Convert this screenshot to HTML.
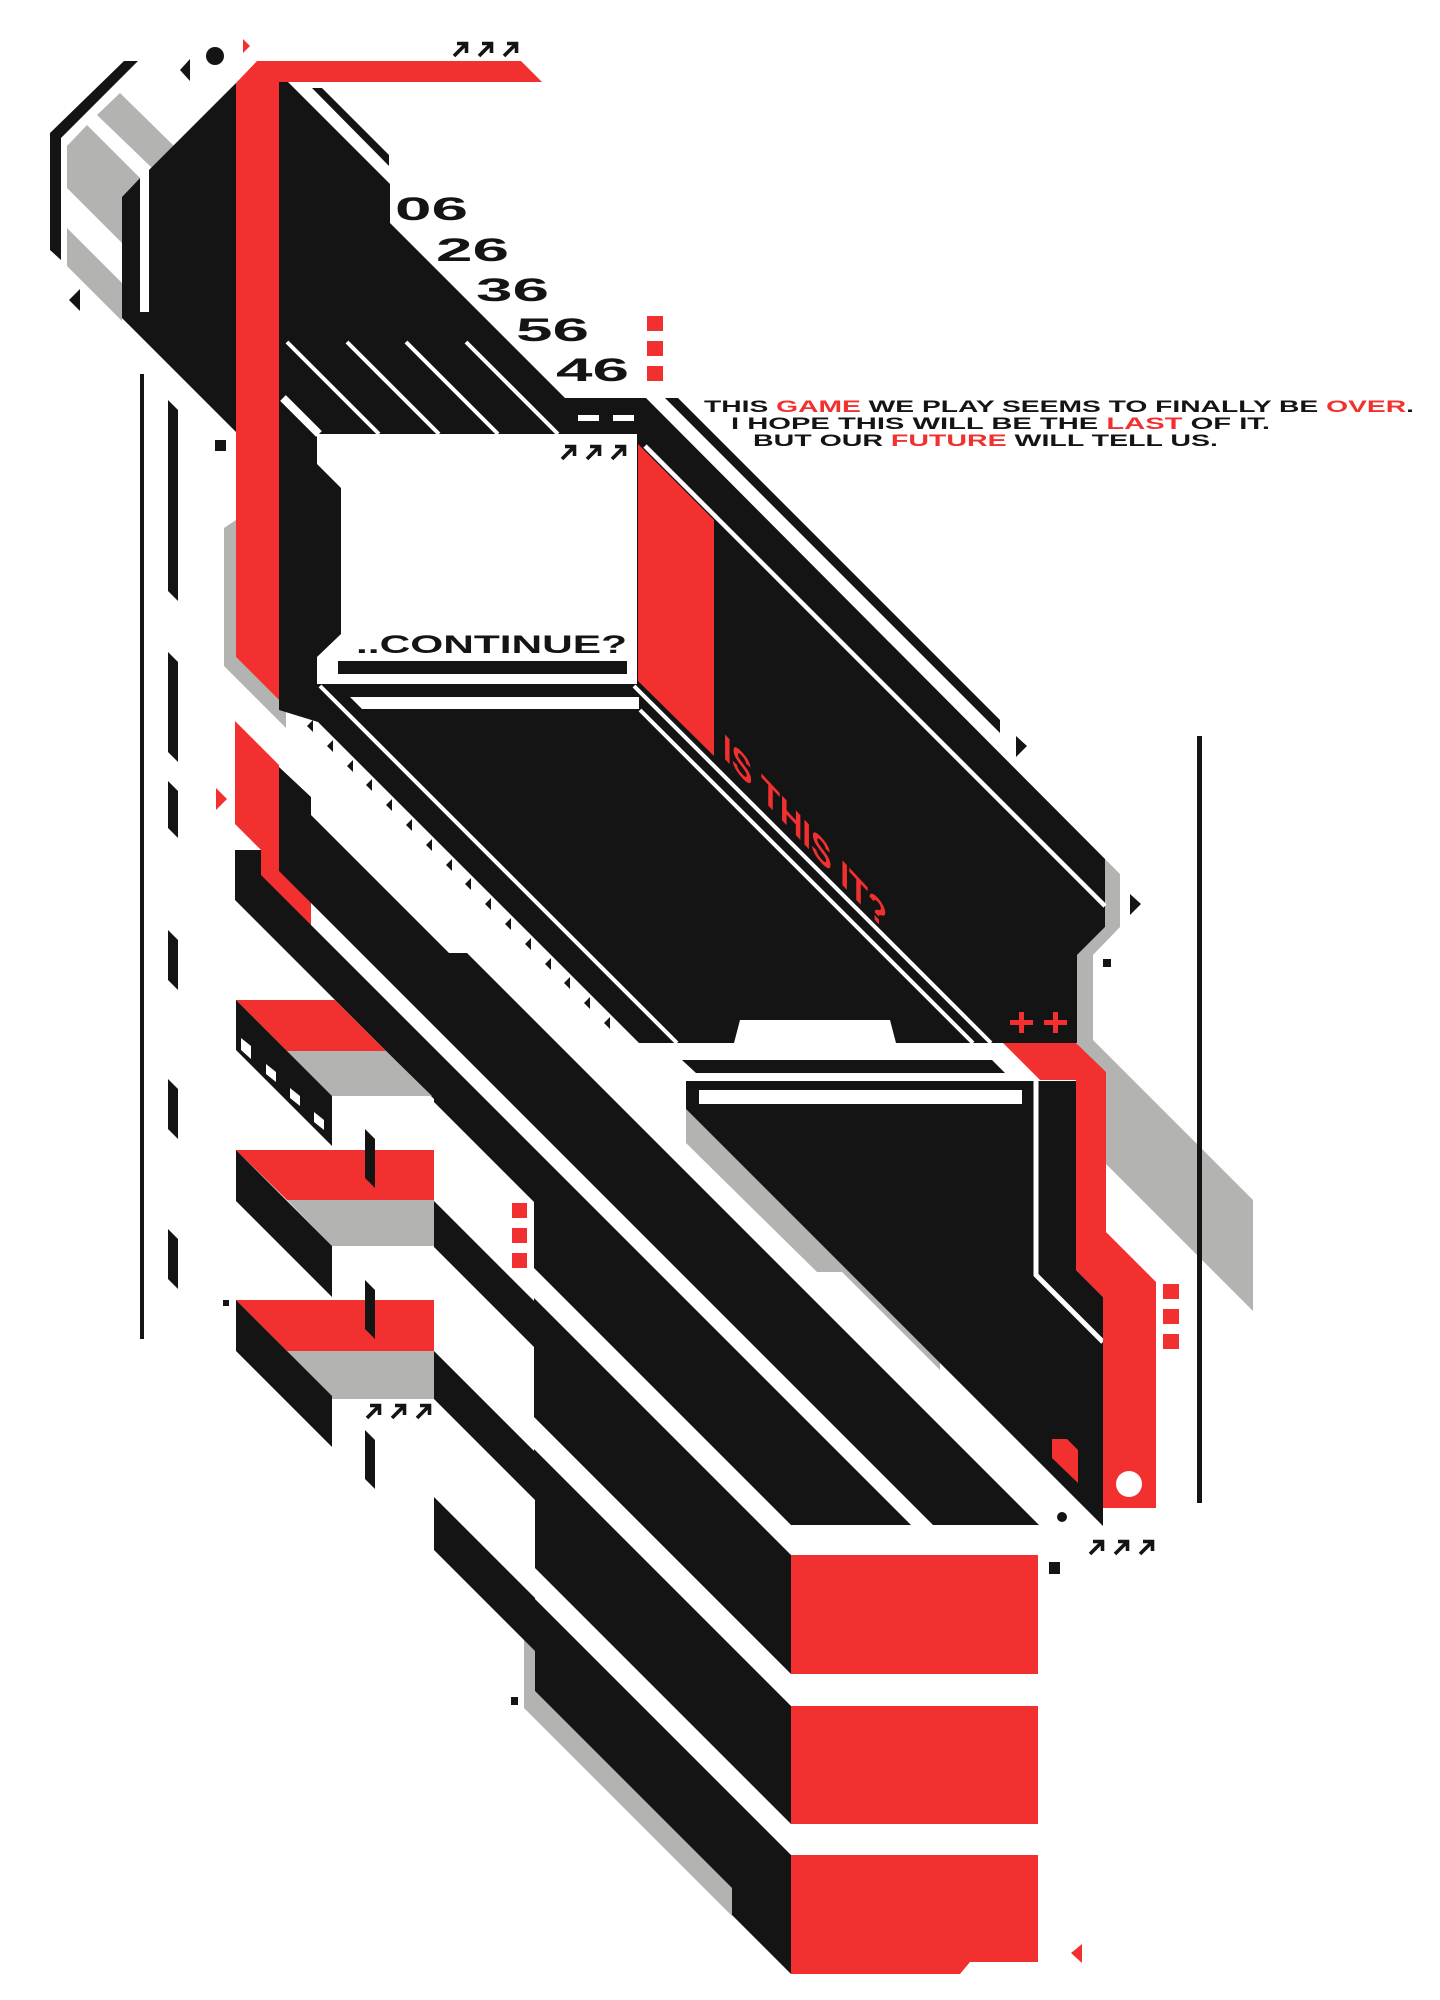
<!DOCTYPE html>
<html><head><meta charset="utf-8"><style>
html,body{margin:0;padding:0;background:#fff;}
svg{display:block;}
text{font-family:"Liberation Sans","DejaVu Sans",sans-serif;font-weight:bold;}
</style></head><body>
<svg width="1440" height="2000" viewBox="0 0 1440 2000" xmlns="http://www.w3.org/2000/svg">
<defs>
<g id="arr"><path d="M2 16 L13 5 M5 3.5 H14.5 V13" stroke="#141414" stroke-width="3.6" fill="none"/></g>
<g id="arr3"><use href="#arr"/><use href="#arr" x="25"/><use href="#arr" x="50"/></g>
</defs>
<rect width="1440" height="2000" fill="#fff"/>

<!-- gray shadows -->
<g fill="#b3b3b1">
<polygon points="97,115 120,93 174,146 152,168"/>
<polygon points="67,146 87,125 140,178 122,197 122,243 67,188"/>
<polygon points="67,228 122,283 122,321 67,266"/>
<polygon points="224,528 236,520 236,657 286,707 286,728 224,666"/>
<polygon points="1105,859 1120,874 1120,927 1093,955 1093,1040 1253,1200 1253,1311 1100,1158 1077,1043 1077,955 1105,927"/>
<polygon points="686,1109 940,1363 940,1370 842,1272 817,1272 686,1143"/>
<polygon points="524,1638 535,1650 535,1691 732,1888 732,1916 524,1708"/>
</g>

<!-- left frame -->
<g fill="#141414">
<polygon points="50,133 124,61 138,61 61,138 61,260 50,250"/>
<polygon points="149,170 236,83 236,432 122,318 122,197 140,178"/>
<polygon points="69,300 80,289 80,311"/>
<polygon points="180,70 190,59 190,81"/>
<circle cx="215" cy="56" r="9"/>
<rect x="140" y="374" width="4" height="965"/>
<rect x="215" y="440" width="11" height="11"/>
<rect x="223" y="1300" width="6" height="6"/>
<rect x="511" y="1697" width="7" height="8"/>
</g>
<rect x="140" y="170" width="9" height="142" fill="#fff"/>
<g fill="#141414">
<polygon points="168,400 178,410 178,601 168,591"/>
<polygon points="168,652 178,662 178,762 168,752"/>
<polygon points="168,781 178,791 178,838 168,828"/>
<polygon points="168,930 178,940 178,990 168,980"/>
<polygon points="168,1079 178,1089 178,1139 168,1129"/>
<polygon points="168,1229 178,1239 178,1289 168,1279"/>
</g>
<polygon points="243,39 250,46 243,53" fill="#f2302f"/>
<polygon points="216,788 227,799 216,810" fill="#f2302f"/>

<!-- main upper body + region under box -->
<polygon fill="#141414" points="279,82 288,82 390,184 390,223 565,398 646,398 1105,859 1105,927 1077,955 1077,1043 639,1043 318,722 279,710"/>
<polygon fill="#141414" points="312,88 322,88 389,155 389,166"/>
<polygon fill="#141414" points="665,398 678,398 1000,720 1000,733"/>

<!-- lower mass -->
<polygon fill="#141414" points="279,767 311,797 311,815 449,953 467,953 1039,1525 791,1525 791,1974 732,1915 732,1888 535,1691 535,1651 434,1550 434,1099 235,900 235,850 279,850"/>
<!-- box2 -->
<polygon fill="#141414" points="686,1081 1076,1081 1076,1270 1103,1297 1103,1526 686,1109"/>
<polygon fill="#141414" points="682,1060 992,1060 1005,1073 696,1073"/>

<!-- white strips / lines -->
<g fill="#fff">
<polygon points="311,903 935,1527 935,1549 311,925"/>
<polygon points="434,1102 534,1202 534,1301 434,1201"/>
<polygon points="534,1268 800,1534 800,1564 534,1298"/>
<polygon points="434,1247 534,1347 534,1451 434,1351"/>
<polygon points="534,1417 800,1683 800,1715 534,1449"/>
<polygon points="434,1399 535,1500 535,1598 434,1497"/>
<polygon points="535,1568 800,1833 800,1864 535,1599"/>
<polygon points="734,1043 740,1020 890,1020 896,1043"/>
<rect x="699" y="1090" width="323" height="14"/>
</g>
<g stroke="#fff" fill="none">
<line x1="287" y1="342" x2="379" y2="434" stroke-width="4"/>
<line x1="347" y1="342" x2="439" y2="434" stroke-width="4"/>
<line x1="406" y1="342" x2="498" y2="434" stroke-width="4"/>
<line x1="466" y1="342" x2="558" y2="434" stroke-width="4"/>
<line x1="283" y1="398" x2="319" y2="434" stroke-width="8"/>
<line x1="645" y1="446" x2="1105" y2="906" stroke-width="4.5"/>
<line x1="634" y1="686" x2="991" y2="1043" stroke-width="4"/>
<line x1="640" y1="710" x2="973" y2="1043" stroke-width="4"/>
<line x1="320" y1="686" x2="677" y2="1043" stroke-width="4"/>
<polyline points="1036,1081 1036,1275 1103,1342" stroke-width="5"/>
</g>

<!-- red shapes -->
<g fill="#f2302f">
<polygon points="236,83 257,61 521,61 542,82 279,82 279,700 236,657"/>
<polygon points="235,721 279,765 279,871 311,903 311,925 261,875 261,850 235,824"/>
<polygon points="638,444 714,520 714,756 638,681"/>
<polygon points="1003,1043 1076,1043 1106,1072 1106,1232 1156,1282 1156,1508 1103,1508 1103,1297 1076,1270 1076,1080 1040,1080"/>
<polygon points="1052,1439 1067,1439 1078,1450 1078,1483 1052,1458"/>
<rect x="791" y="1555" width="247" height="119"/>
<rect x="791" y="1706" width="247" height="118"/>
<polygon points="791,1855 1038,1855 1038,1962 970,1962 960,1974 791,1974"/>
<polygon points="1082,1944 1082,1963 1071,1953"/>
<rect x="647" y="316" width="16" height="15"/>
<rect x="647" y="341" width="16" height="15"/>
<rect x="647" y="366" width="16" height="15"/>
<rect x="512" y="1203" width="15" height="15"/>
<rect x="512" y="1228" width="15" height="15"/>
<rect x="512" y="1253" width="15" height="15"/>
<rect x="1163" y="1284" width="16" height="15"/>
<rect x="1163" y="1309" width="16" height="15"/>
<rect x="1163" y="1334" width="16" height="15"/>
<path d="M1010 1020h23v5h-23zM1019 1012h5v21h-5zM1044 1020h23v5h-23zM1053 1012h5v21h-5z"/>
</g>
<circle cx="1129" cy="1484" r="13" fill="#fff"/>
<polygon points="1083,1440 1103,1440 1103,1488 1085,1506" fill="#141414"/>

<!-- box -->
<polygon fill="#fff" points="317,434 637,434 637,684 317,684 317,657 341,634 341,488 317,464"/>
<rect x="338" y="661" width="289" height="13" fill="#141414"/>
<polygon points="350,697 639,697 639,709 362,709" fill="#fff"/>
<rect x="578" y="415" width="21" height="6" fill="#fff"/>
<rect x="613" y="415" width="21" height="6" fill="#fff"/>

<!-- step blocks -->
<g>
<polygon fill="#f2302f" points="236,1000 335,1000 386,1051 287,1051"/>
<polygon fill="#b3b3b1" points="287,1051 386,1051 432,1096 332,1096"/>
<polygon fill="#141414" points="236,1000 332,1096 332,1146 236,1050"/>
<g fill="#fff"><polygon points="241,1038 251,1046 251,1059 241,1050"/><polygon points="266,1064 276,1072 276,1082 266,1074"/><polygon points="290,1088 300,1096 300,1106 290,1098"/><polygon points="314,1112 324,1120 324,1130 314,1122"/></g>
<polygon fill="#f2302f" points="236,1150 434,1150 434,1200 287,1200"/>
<polygon fill="#b3b3b1" points="287,1200 434,1200 434,1246 332,1246"/>
<polygon fill="#141414" points="236,1150 332,1246 332,1297 236,1201"/>
<polygon fill="#f2302f" points="236,1300 434,1300 434,1351 287,1351"/>
<polygon fill="#b3b3b1" points="287,1351 434,1351 434,1399 332,1399"/>
<polygon fill="#141414" points="236,1300 332,1396 332,1447 236,1351"/>
<polygon fill="#141414" points="365,1129 375,1139 375,1188 365,1178"/>
<polygon fill="#141414" points="365,1280 375,1290 375,1339 365,1329"/>
<polygon fill="#141414" points="365,1430 375,1440 375,1489 365,1479"/>
</g>

<!-- triangles strip -->
<g fill="#141414">
<polygon points="307,726 313,720 313,732"/><polygon points="327,746 333,740 333,752"/><polygon points="347,766 353,760 353,772"/><polygon points="366,785 372,779 372,791"/><polygon points="386,805 392,799 392,811"/><polygon points="406,825 412,819 412,831"/><polygon points="426,845 432,839 432,851"/><polygon points="446,865 452,859 452,871"/><polygon points="465,884 471,878 471,890"/><polygon points="485,904 491,898 491,910"/><polygon points="505,924 511,918 511,930"/><polygon points="525,944 531,938 531,950"/><polygon points="545,964 551,958 551,970"/><polygon points="564,983 570,977 570,989"/><polygon points="584,1003 590,997 590,1009"/><polygon points="604,1023 610,1017 610,1029"/>
</g>

<!-- right markers -->
<g fill="#141414">
<rect x="1197" y="736" width="5" height="767"/>
<polygon points="1016,736 1027,746 1016,757"/>
<polygon points="1130,894 1141,904 1130,915"/>
<rect x="1103" y="959" width="8" height="8"/>
<circle cx="1062" cy="1517" r="5"/>
<rect x="1049" y="1562" width="11" height="12"/>
</g>

<!-- arrows -->
<use href="#arr3" x="452" y="40"/>
<use href="#arr3" x="560" y="443"/>
<use href="#arr3" x="365" y="1402"/>
<use href="#arr3" x="1088" y="1538"/>

<!-- numbers -->
<g fill="#141414" font-size="32">
<text x="395" y="220" textLength="73" lengthAdjust="spacingAndGlyphs">06</text>
<text x="436" y="261" textLength="73" lengthAdjust="spacingAndGlyphs">26</text>
<text x="476" y="301" textLength="73" lengthAdjust="spacingAndGlyphs">36</text>
<text x="516" y="341" textLength="73" lengthAdjust="spacingAndGlyphs">56</text>
<text x="556" y="381" textLength="73" lengthAdjust="spacingAndGlyphs">46</text>
</g>
<text x="356" y="653" font-size="25" fill="#141414" textLength="271" lengthAdjust="spacingAndGlyphs">..CONTINUE?</text>

<g font-size="17" fill="#141414">
<text x="704" y="412" textLength="710" lengthAdjust="spacingAndGlyphs">THIS <tspan fill="#f2302f">GAME</tspan> WE PLAY SEEMS TO FINALLY BE <tspan fill="#f2302f">OVER</tspan>.</text>
<text x="731" y="429" textLength="539" lengthAdjust="spacingAndGlyphs">I HOPE  THIS WILL BE THE <tspan fill="#f2302f">LAST</tspan> OF  IT.</text>
<text x="753" y="446" textLength="465" lengthAdjust="spacingAndGlyphs">BUT OUR <tspan fill="#f2302f">FUTURE</tspan> WILL TELL US.</text>
</g>

<text transform="translate(723,757) skewY(47)" x="0" y="0" font-size="36" fill="#f2302f" textLength="164" lengthAdjust="spacingAndGlyphs">IS THIS IT?</text>
</svg>
</body></html>
